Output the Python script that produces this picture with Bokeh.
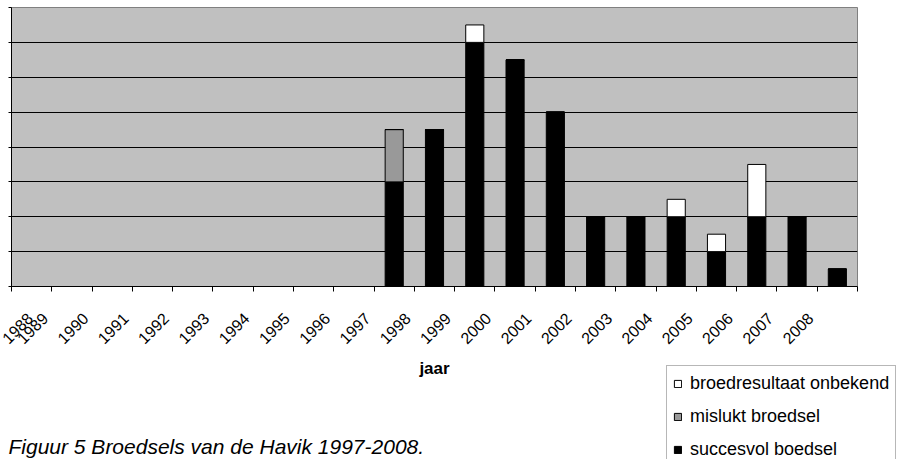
from math import pi
from bokeh.plotting import figure
from bokeh.layouts import column
from bokeh.models import (Range1d, FixedTicker, Legend, LegendItem, Label, ColumnDataSource)
from bokeh.embed import file_html
from bokeh.resources import INLINE

# ---- data ----
years = list(range(1988, 2009))
year_labels = [str(y) for y in years]
succesvol = [0, 0, 0, 0, 0, 0, 0, 0, 0, 6, 9, 14, 13, 10, 4, 4, 4, 2, 4, 4, 1]
mislukt   = [0, 0, 0, 0, 0, 0, 0, 0, 0, 3, 0, 0, 0, 0, 0, 0, 0, 0, 0, 0, 0]
onbekend  = [0, 0, 0, 0, 0, 0, 0, 0, 0, 0, 0, 1, 0, 0, 0, 0, 1, 1, 3, 0, 0]
y_ticks = [0, 2, 4, 6, 8, 10, 12, 14, 16]
series_names = ["succesvol boedsel", "mislukt broedsel", "broedresultaat onbekend"]
series_colors = ["#000000", "#999999", "#FFFFFF"]
caption = "Figuur 5 Broedsels van de Havik 1997-2008."
x_title = "jaar"

FONT = "Liberation Sans"
W = 899
P_H = 382          # chart figure height
OVERLAP = 22       # bottom strip starts this many px above chart figure end
Q_TOP = P_H - OVERLAP
Q_H = 459 - Q_TOP

x0, x1 = years[0] - 0.5, years[-1] + 0.5
y0, y1 = y_ticks[0], y_ticks[-1]

source = ColumnDataSource(dict(year=years, s=succesvol, m=mislukt, o=onbekend))

p = figure(width=W, height=P_H, x_range=Range1d(x0, x1), y_range=Range1d(y0, y1),
           output_backend="svg", toolbar_location=None,
           min_border_left=11, min_border_right=42, min_border_top=7,
           min_border_bottom=P_H - 286,
           background_fill_color="#C0C0C0", border_fill_color="white",
           outline_line_color="#808080", outline_line_width=1)

rs = p.vbar_stack(["s", "m", "o"], x="year", width=0.45, source=source,
                  fill_color=series_colors, line_color="black", line_width=1)

# y axis: line + small outward ticks (labels are cut off in the original)
ya = p.yaxis[0]
ya.ticker = FixedTicker(ticks=y_ticks)
ya.major_label_overrides = {t: "" for t in y_ticks}
ya.major_label_standoff = 0
ya.major_tick_out = 3
ya.major_tick_in = 0
ya.minor_tick_line_color = None
ya.axis_line_color = "black"

# x axis: ticks at category boundaries, rotated labels left of category centres
shift = 0.67
label_pos = [max(y - shift, x0 + 0.01) for y in years]
bounds = [y - 0.5 for y in years] + [years[-1] + 0.5]
xa = p.xaxis[0]
xa.ticker = FixedTicker(ticks=label_pos, minor_ticks=bounds)
xa.major_label_overrides = {pos: lab for pos, lab in zip(label_pos, year_labels)}
xa.major_tick_line_color = None
xa.minor_tick_line_color = "black"
xa.minor_tick_out = 5
xa.minor_tick_in = 0
xa.axis_line_color = "black"
xa.major_label_orientation = pi / 4
xa.major_label_text_font = FONT
xa.major_label_text_font_size = "16px"
xa.major_label_text_color = "black"
xa.major_label_standoff = 23
xa.axis_label = x_title
xa.axis_label_text_font = FONT
xa.axis_label_text_font_size = "17px"
xa.axis_label_text_font_style = "bold"
xa.axis_label_text_color = "black"
xa.axis_label_standoff = 7

p.xgrid.visible = False
p.ygrid.ticker = FixedTicker(ticks=y_ticks)
p.ygrid.grid_line_color = "black"
p.ygrid.grid_line_width = 1

# ---- bottom strip: legend and caption (pixel coordinates, y downwards) ----
q = figure(width=W, height=Q_H, x_range=Range1d(0, W), y_range=Range1d(Q_H, 0),
           output_backend="svg", toolbar_location=None,
           x_axis_location=None, y_axis_location=None,
           min_border=0, outline_line_color=None,
           background_fill_alpha=0, border_fill_alpha=0)
q.frame_align = False
q.xgrid.visible = False
q.ygrid.visible = False
q.margin = (-OVERLAP, 0, 0, 0)

nan = float("nan")
proxies = [q.vbar(x=[nan], top=[nan], width=1, fill_color=c,
                  line_color="black", line_width=1)
           for c in series_colors]

PAD, LH, SP = 6, 22, 11
LEG_TOP = 367 - Q_TOP
leg_h = 2 * PAD + 3 * LH + 2 * SP
legend = Legend(items=[LegendItem(label=series_names[2], renderers=[proxies[2]]),
                       LegendItem(label=series_names[1], renderers=[proxies[1]]),
                       LegendItem(label=series_names[0], renderers=[proxies[0]])],
                location=(666, Q_H - LEG_TOP - leg_h), orientation="vertical",
                glyph_width=9, glyph_height=9, label_standoff=8,
                padding=PAD, spacing=SP, label_height=LH,
                label_text_font=FONT, label_text_font_size="18px",
                label_text_color="black", label_text_baseline="middle",
                border_line_color="#707070", border_line_width=1,
                background_fill_color="white", background_fill_alpha=1.0,
                margin=0)
q.add_layout(legend)

q.add_layout(Label(x=8, y=446 - Q_TOP, text=caption, text_font=FONT,
                   text_font_size="21px", text_font_style="italic",
                   text_color="black", text_baseline="alphabetic",
                   text_align="left"))

layout = column(p, q, spacing=0)
open("out.html", "w").write(file_html(layout, INLINE))
